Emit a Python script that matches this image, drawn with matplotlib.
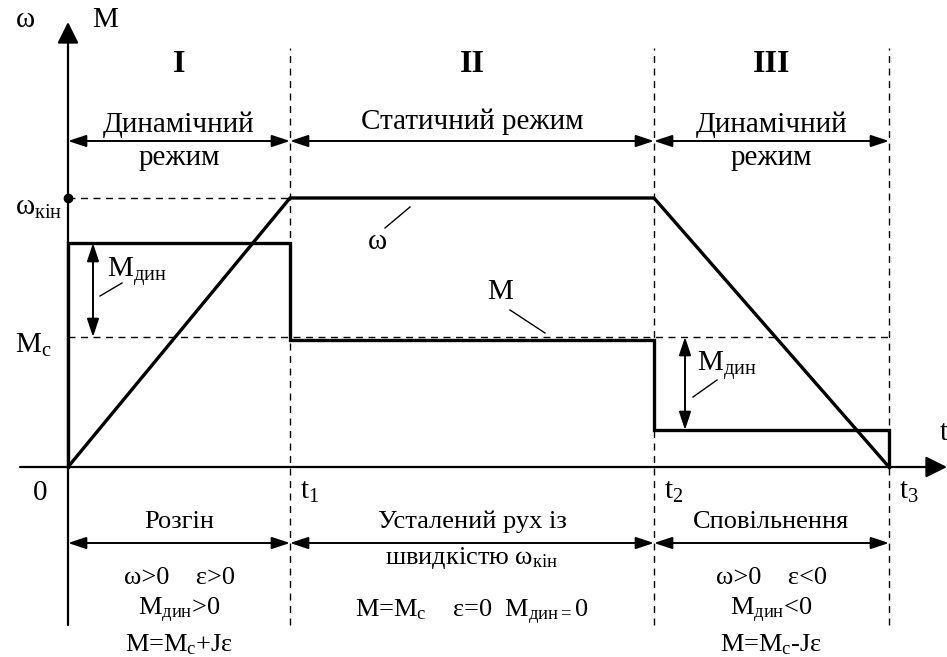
import matplotlib
matplotlib.use("Agg")
from matplotlib import pyplot as plt

plt.rcParams['font.family'] = ['Liberation Serif', 'DejaVu Serif']
plt.rcParams['mathtext.fontset'] = 'custom'
plt.rcParams['mathtext.rm'] = 'Liberation Serif'
plt.rcParams['mathtext.it'] = 'Liberation Serif'
plt.rcParams['mathtext.default'] = 'regular'

# time moments and levels (diagram units)
t_marks = [0, 222, 586, 821]
t_names = ["t$_1$", "t$_2$", "t$_3$"]
w_kin = 269
M_dyn_up = 224
M_c = 127
M_dyn_down = 37

omega_t = [0, 222, 586, 821]
omega_v = [0, 269, 269, 0]
M_t = [0, 0, 222, 222, 586, 586, 821, 821]
M_v = [0, 224, 224, 127, 127, 37, 37, 0]

stage_nums = ["I", "II", "III"]
top_lines = [["Динамічний", "режим"], ["Статичний режим"], ["Динамічний", "режим"]]
bottom_titles = [["Розгін"], ["Усталений рух із", "швидкістю ω$_{кін}$"], ["Сповільнення"]]
bottom_conds = [["ω>0    ε>0", "M$_{дин}$>0", "M=M$_{c}$+Jε"],
                ["M=M$_{c}$    ε=0  M$_{дин=}$0"],
                ["ω>0    ε<0", "M$_{дин}$<0", "M=M$_{c}$-Jε"]]

fig = plt.figure(figsize=(9.47, 6.57), dpi=100)
ax = fig.add_axes([0, 0, 1, 1])
ax.set_xlim(-68, 879)
ax.set_ylim(-190, 467)
ax.axis('off')

FS = 21
BFS = 19
k = 'black'

# axes with arrows
ax_arr = dict(arrowstyle='-|>,head_length=1.0,head_width=0.5', color=k, lw=1.6, mutation_scale=13,
              shrinkA=0, shrinkB=0)
ax.annotate('', xy=(0, 445), xytext=(0, -158), arrowprops=ax_arr, annotation_clip=False)
ax.annotate('', xy=(879, 0), xytext=(-48, 0), arrowprops=ax_arr, annotation_clip=False)

# dashed guides
for t in t_marks[1:]:
    ax.plot([t, t], [-158, 419], color=k, lw=1.0, ls=(0, (5, 4)))
ax.plot([0, t_marks[1]], [w_kin, w_kin], color=k, lw=1.0, ls=(0, (5, 4)))
ax.plot([0, t_marks[3]], [M_c + 3, M_c + 3], color=k, lw=1.0, ls=(0, (5, 4)))
ax.plot([0], [w_kin], 'o', color=k, ms=6)

# curves
ax.plot(omega_t, omega_v, color=k, lw=2.4, solid_joinstyle='miter')
ax.plot(M_t, M_v, color=k, lw=2.4, solid_joinstyle='miter')

# M_dyn arrows
arr = dict(arrowstyle='<|-|>,head_length=1.0,head_width=0.33', color=k, lw=1.4, mutation_scale=11,
           shrinkA=0, shrinkB=0)
ax.annotate('', xy=(25, M_dyn_up), xytext=(25, M_c + 3), arrowprops=arr)
ax.annotate('', xy=(617, M_c + 3), xytext=(617, M_dyn_down), arrowprops=arr)
ax.text(39, 195, "M$_{дин}$", fontsize=FS, ha='left', va='center')
ax.plot([32, 54], [171, 184], color=k, lw=1.0)
ax.text(629, 102, "M$_{дин}$", fontsize=FS, ha='left', va='center')
ax.plot([625, 649], [70, 87], color=k, lw=1.0)

# curve labels
ax.text(309, 225, "ω", fontsize=FS, ha='center', va='center')
ax.plot([317, 342], [239, 260], color=k, lw=1.0)
ax.text(432, 175, "M", fontsize=FS, ha='center', va='center')
ax.plot([442, 477], [157, 134], color=k, lw=1.0)

# axis labels
ax.text(-43, 447, "ω", fontsize=FS, ha='center', va='center')
ax.text(37, 447, "M", fontsize=FS, ha='center', va='center')
ax.text(-6, 259, "ω$_{кін}$", fontsize=FS, ha='right', va='center')
ax.text(-16, 122, "M$_{c}$", fontsize=FS, ha='right', va='center')
ax.text(-28, -26, "0", fontsize=FS, ha='center', va='center')
ax.text(872, 34, "t", fontsize=FS, ha='left', va='center')
for t, name in zip(t_marks[1:], t_names):
    ax.text(t + 10, -25, name, fontsize=FS, ha='left', va='center')

# stages
top_y = 326
bot_y = -76
for i in range(3):
    a, b = t_marks[i], t_marks[i + 1]
    c = (a + b) / 2
    ax.annotate('', xy=(a, top_y), xytext=(b, top_y), arrowprops=arr)
    ax.annotate('', xy=(a, bot_y), xytext=(b, bot_y), arrowprops=arr)
    ax.text(c, 402, stage_nums[i], fontsize=FS + 2, fontweight='bold', ha='center', va='center')
    if len(top_lines[i]) == 2:
        ax.text(c, 342, top_lines[i][0], fontsize=FS, ha='center', va='center')
        ax.text(c, 309, top_lines[i][1], fontsize=FS, ha='center', va='center')
    else:
        ax.text(c, 345, top_lines[i][0], fontsize=FS, ha='center', va='center')
    ax.text(c, -55, bottom_titles[i][0], fontsize=BFS, ha='center', va='center')
    if len(bottom_titles[i]) > 1:
        ax.text(c, -91, bottom_titles[i][1], fontsize=BFS, ha='center', va='center')
    if len(bottom_conds[i]) == 3:
        for line, y in zip(bottom_conds[i], [-111, -143, -178]):
            ax.text(c, y, line, fontsize=BFS, ha='center', va='center')
    else:
        ax.text(c, -145, bottom_conds[i][0], fontsize=BFS, ha='center', va='center')

fig.savefig("out.png", dpi=100)
